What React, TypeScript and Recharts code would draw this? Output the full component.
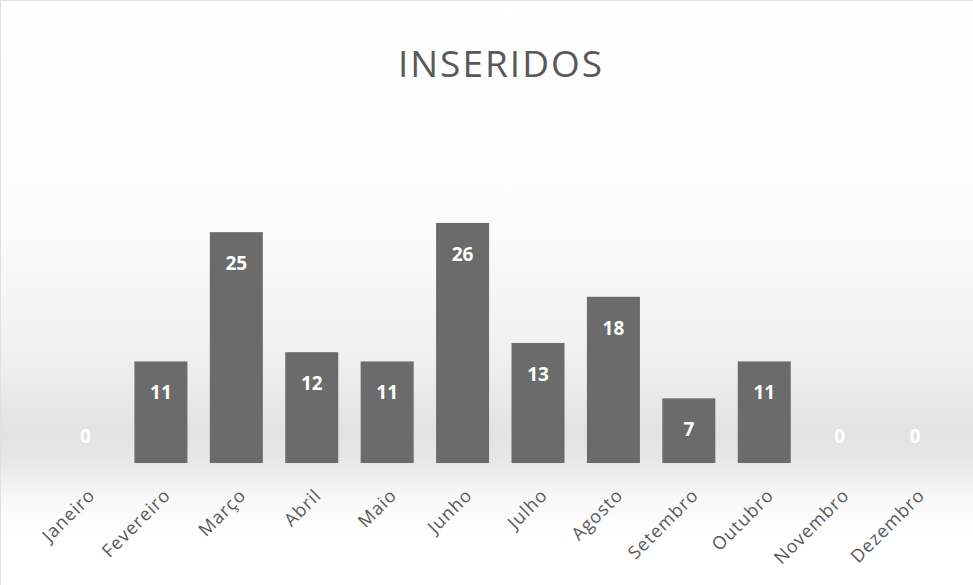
import React from 'react';
import { BarChart, Bar, XAxis, YAxis } from 'recharts';

const months = ['Janeiro', 'Fevereiro', 'Março', 'Abril', 'Maio', 'Junho', 'Julho', 'Agosto', 'Setembro', 'Outubro', 'Novembro', 'Dezembro'];
const inseridos = [0, 11, 25, 12, 11, 26, 13, 18, 7, 11, 0, 0];

const data = months.map((m, i) => ({ month: m, value: inseridos[i] }));

const FONT = '"Open Sans", Calibri, sans-serif';

const MonthTick = (props: any) => {
    const { x, y, payload } = props;
    return (
        <g transform={`translate(${x + 6},${y + 21})`}>
            <text transform="rotate(-45)" textAnchor="end" dy="0.35em" fontSize={18} letterSpacing={1} fill="#595959" fontFamily={FONT}>
                {payload.value}
            </text>
        </g>
    );
};

// bar + white value label drawn together so that the zero bars still get their "0"
const LabeledBar = (props: any) => {
    const { x, y, width, height, fill, payload } = props;
    const v = payload?.value ?? 0;
    const bottom = y + height;
    const cy = v === 0 ? bottom - 27 : y + 31;
    return (
        <g>
            {v > 0 && <rect x={x} y={y} width={width} height={height} fill={fill} />}
            <text x={x + width / 2} y={cy} textAnchor="middle" dominantBaseline="central" fontSize={19} fontWeight={700} fill="#ffffff" fontFamily={FONT}>
                {v}
            </text>
        </g>
    );
};

export default function App() {
    return (
        <div
            style={{
                position: 'absolute',
                left: 0,
                top: 0,
                width: 973,
                height: 585,
                background: 'linear-gradient(to bottom, #ffffff 0%, #fbfbfb 40%, #efefef 62%, #e2e2e2 74%, #e8e8e8 79%, #f8f8f8 85%, #ffffff 92%)',
                borderTop: '1px solid #e0e0e0',
                borderLeft: '1px solid #e0e0e0',
                boxSizing: 'border-box',
                fontFamily: FONT,
            }}
        >
            <div style={{ position: 'absolute', top: 38, left: 14, width: '100%', textAlign: 'center', fontSize: 37, letterSpacing: 2, color: '#595959', lineHeight: '48px' }}>
                INSERIDOS
            </div>
            <BarChart width={973} height={585} data={data} margin={{ top: 185, right: 21, left: 47, bottom: 23 }}>
                <XAxis dataKey="month" interval={0} height={100} axisLine={false} tickLine={false} tick={<MonthTick />} />
                <YAxis hide domain={[0, 30]} />
                <Bar dataKey="value" fill="#6b6b6b" barSize={53} isAnimationActive={false} shape={<LabeledBar />} />
            </BarChart>
        </div>
    );
}
